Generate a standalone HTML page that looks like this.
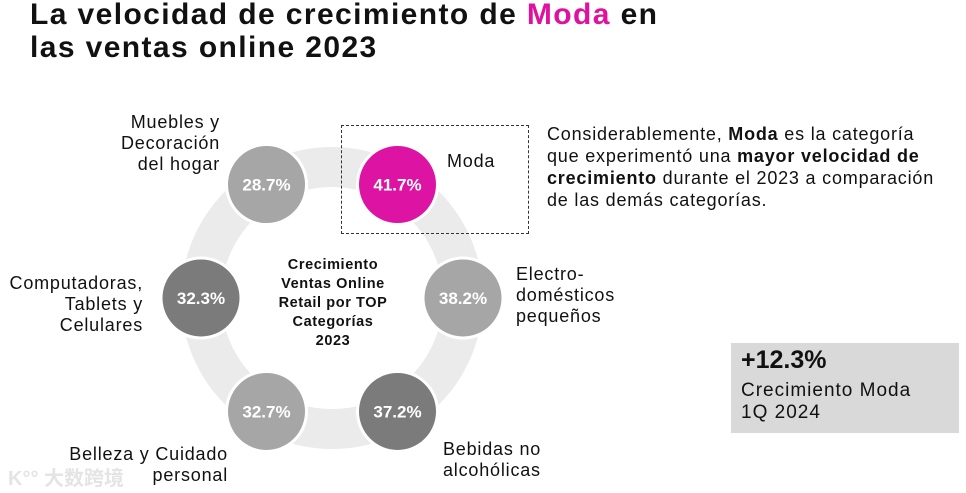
<!DOCTYPE html>
<html><head><meta charset="utf-8">
<style>
html,body{margin:0;padding:0;background:#fff;}
body{width:966px;height:493px;position:relative;overflow:hidden;font-family:"Liberation Sans","Noto Sans CJK SC",sans-serif;color:#111;}
.t{position:absolute;white-space:nowrap;}
#title{left:30px;top:-2px;font-size:30px;font-weight:bold;line-height:33px;letter-spacing:1.4px;}
.lbl{font-size:18px;line-height:21px;letter-spacing:0.8px;}
</style></head><body>
<div id="title" class="t">La velocidad de crecimiento de <span style="color:#e0119e">Moda</span> en<br>las ventas online 2023</div>

<svg width="966" height="493" style="position:absolute;left:0;top:0">
<g id="ring"></g>
</svg>

<div class="t" style="left:253px;top:256px;width:160px;text-align:center;font-size:14.5px;font-weight:bold;line-height:19px;letter-spacing:0.6px;">Crecimiento<br>Ventas Online<br>Retail por TOP<br>Categorías<br>2023</div>

<div class="t lbl" style="right:746px;top:112px;text-align:right;">Muebles y<br>Decoración<br>del hogar</div>
<div class="t lbl" style="left:447px;top:151px;">Moda</div>
<div class="t lbl" style="left:516px;top:264px;">Electro-<br>domésticos<br>pequeños</div>
<div class="t lbl" style="left:443px;top:439px;">Bebidas no<br>alcohólicas</div>
<div class="t lbl" style="right:738px;top:444px;text-align:right;">Belleza y Cuidado<br>personal</div>
<div class="t lbl" style="right:823px;top:273px;text-align:right;">Computadoras,<br>Tablets y<br>Celulares</div>

<div style="position:absolute;left:341px;top:125px;width:186px;height:107px;border:1px dashed #333;"></div>

<div class="t" style="left:547px;top:123px;font-size:18px;line-height:22px;letter-spacing:0.8px;">Considerablemente, <b>Moda</b> es la categoría<br>que experimentó una <b>mayor velocidad de</b><br><b>crecimiento</b> durante el 2023 a comparación<br>de las demás categorías.</div>

<div style="position:absolute;left:731px;top:343px;width:228px;height:90px;background:#d9d9d9;"></div>
<div class="t" style="left:741px;top:346px;font-size:25px;font-weight:bold;">+12.3%</div>
<div class="t" style="left:741px;top:380px;font-size:19px;line-height:22px;letter-spacing:1px;">Crecimiento Moda<br>1Q 2024</div>

<div class="t" style="left:8px;top:462px;font-size:20px;color:#e4e4e4;font-weight:bold;">K°° 大数跨境</div>

<script>
const categories=["Moda","Electrodomésticos pequeños","Bebidas no alcohólicas","Belleza y Cuidado personal","Computadoras, Tablets y Celulares","Muebles y Decoración del hogar"];
const values=[41.7,38.2,37.2,32.7,32.3,28.7];
const colors=["#dd14a3","#a6a6a6","#7b7b7b","#a6a6a6","#7b7b7b","#a6a6a6"];
const angles=[-60,0,60,120,180,240];
const NS="http://www.w3.org/2000/svg";
const g=document.getElementById('ring');
const cx=332,cy=298,R=131,r=40;
const band=document.createElementNS(NS,'circle');


band.setAttribute('cx',cx);band.setAttribute('cy',cy);band.setAttribute('r',R);
band.setAttribute('fill','none');band.setAttribute('stroke','#ebebeb');band.setAttribute('stroke-width',40);
g.appendChild(band);
values.forEach((v,i)=>{
  const a=angles[i]*Math.PI/180;
  const x=cx+R*Math.cos(a),y=cy+R*Math.sin(a);
  const c=document.createElementNS(NS,'circle');
  
  
  c.setAttribute('cx',x);c.setAttribute('cy',y);c.setAttribute('r',r);
  c.setAttribute('fill',colors[i]);c.setAttribute('stroke','#fff');c.setAttribute('stroke-width',3);
  g.appendChild(c);
  const t=document.createElementNS(NS,'text');
  
  
  t.setAttribute('x',x);t.setAttribute('y',y+6);t.setAttribute('text-anchor','middle');
  t.setAttribute('fill','#fff');t.setAttribute('font-size','17');t.setAttribute('font-weight','bold');
  t.setAttribute('font-family','Liberation Sans, sans-serif');
  t.textContent=v.toFixed(1)+'%';
  g.appendChild(t);
});
</script>
</body></html>
